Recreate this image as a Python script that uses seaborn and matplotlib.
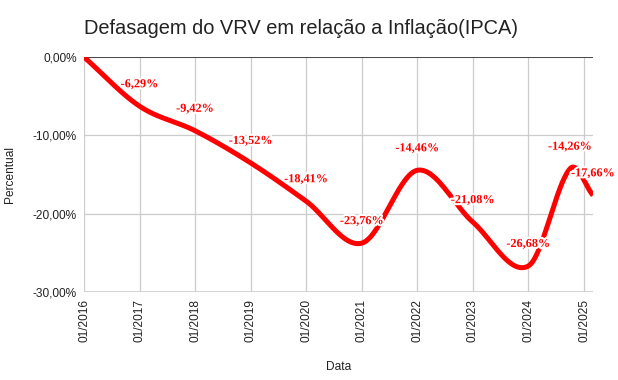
import numpy as np
import pandas as pd
import matplotlib
matplotlib.use("Agg")
import matplotlib.pyplot as plt
import matplotlib.dates as mdates
import matplotlib.patheffects as pe
import seaborn as sns

# ---- data ----
dates = ["01/2016", "01/2017", "01/2018", "01/2019", "01/2020", "01/2021",
         "01/2022", "01/2023", "01/2024", "10/2024", "03/2025"]
values = [0.0, -6.29, -9.42, -13.52, -18.41, -23.76,
          -14.46, -21.08, -26.68, -14.26, -17.66]
labels = ["", "-6,29%", "-9,42%", "-13,52%", "-18,41%", "-23,76%",
          "-14,46%", "-21,08%", "-26,68%", "-14,26%", "-17,66%"]
tick_labels = ["01/2016", "01/2017", "01/2018", "01/2019", "01/2020",
               "01/2021", "01/2022", "01/2023", "01/2024", "01/2025"]
y_ticks = [0, -10, -20, -30]
y_tick_labels = ["0,00%", "-10,00%", "-20,00%", "-30,00%"]

sns.set_theme(style="white")
plt.rcParams["font.family"] = ["Liberation Sans", "DejaVu Sans"]

x = mdates.date2num(pd.to_datetime(dates, format="%m/%Y"))
y = np.array(values)

# smooth (Hermite) rendering of the line through the data points
n = len(x)
m = np.zeros(n)
m[0] = (y[1] - y[0]) / (x[1] - x[0])
m[-1] = (y[-1] - y[-2]) / (x[-1] - x[-2])
for i in range(1, n - 1):
    m[i] = (y[i + 1] - y[i - 1]) / (x[i + 1] - x[i - 1])
xs, ys = [], []
for i in range(n - 1):
    h = x[i + 1] - x[i]
    t = np.linspace(0, 1, 60)
    h00 = 2 * t**3 - 3 * t**2 + 1
    h10 = t**3 - 2 * t**2 + t
    h01 = -2 * t**3 + 3 * t**2
    h11 = t**3 - t**2
    xs.extend(x[i] + t * h)
    ys.extend(h00 * y[i] + h10 * h * m[i] + h01 * y[i + 1] + h11 * h * m[i + 1])
curve = pd.DataFrame({"x": xs, "y": ys})

fig = plt.figure(figsize=(6.18, 3.80), dpi=100)
ax = fig.add_axes([84 / 618, 1 - 292 / 380, (593 - 84) / 618, (292 - 57) / 380])

sns.lineplot(data=curve, x="x", y="y", ax=ax, color="#ff0000", linewidth=3.6,
             sort=False, estimator=None, solid_capstyle="butt", zorder=3)

for xi, yi, lab in zip(x, y, labels):
    if lab:
        ax.annotate(lab, (xi, yi), xytext=(0, 22), textcoords="offset pixels",
                    ha="center", va="center", color="#ff0000",
                    fontsize=8.8, fontweight="bold", family="Liberation Serif",
                    zorder=5,
                    path_effects=[pe.withStroke(linewidth=3, foreground="white")])

ax.set_xlim(x[0], x[-1])
ax.set_ylim(-30, 0)

tick_pos = mdates.date2num(pd.to_datetime(tick_labels, format="%m/%Y"))
ax.set_xticks(tick_pos)
ax.set_xticklabels(tick_labels, rotation=90, fontsize=8.6, color="#222222")
ax.set_yticks(y_ticks)
ax.set_yticklabels(y_tick_labels, fontsize=8.6, color="#222222")
ax.tick_params(axis="both", length=0, pad=5)

ax.grid(True, color="#cccccc", linewidth=0.9)
ax.set_axisbelow(True)
for s in ax.spines.values():
    s.set_visible(False)
ax.axhline(0, color="#333333", linewidth=1.2, zorder=1)
ax.axhline(-30, color="#cccccc", linewidth=1.2, zorder=1)

ax.set_xlabel("Data", fontsize=8.6, color="#222222", labelpad=14)
ax.set_ylabel("Percentual", fontsize=8.6, color="#222222", labelpad=12)

fig.text(84 / 618, 1 - 28 / 380, "Defasagem do VRV em relação a Inflação(IPCA)",
         fontsize=14.4, color="#222222", ha="left", va="center")

fig.savefig("out.png", dpi=100)
